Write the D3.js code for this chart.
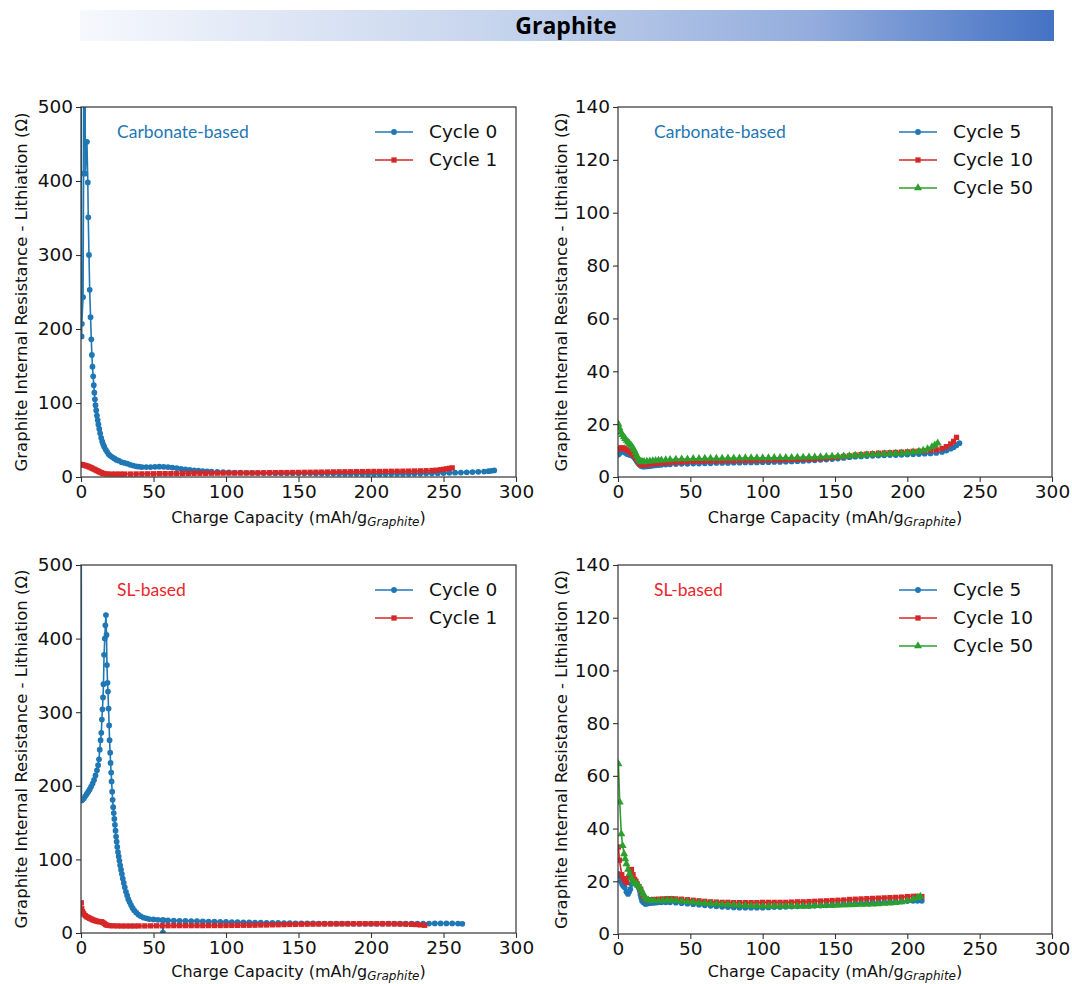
<!DOCTYPE html>
<html>
<head>
<meta charset="utf-8">
<script src="https://cdn.jsdelivr.net/npm/d3@7"></script>
<style>
body { margin: 0; background: #fff; }
text { font-family: "DejaVu Sans", sans-serif; fill: #111; }
</style>
</head>
<body>
<script>
// ---- tick labels / legend names ----
var xTicks = [0, 50, 100, 150, 200, 250, 300];
var yTicksLeft = [0, 100, 200, 300, 400, 500];
var yTicksRight = [0, 20, 40, 60, 80, 100, 120, 140];
var legendLeft = ["Cycle 0", "Cycle 1"];
var legendRight = ["Cycle 5", "Cycle 10", "Cycle 50"];

// ---- carbonate-based electrolyte, [capacity, resistance] ----
var carbCycle0 = [[0.1,900],[0.4,190],[0.6,207],[1.4,243],[1.8,410],[2.4,900],[3.0,410],[4.1,453],[4.7,398],[5.0,351],[5.5,300],[6.0,253],[6.6,216],[7.1,186],[7.5,165],[7.9,149],[8.4,136],[8.8,124],[9.2,114],[9.6,105],[10.0,97],[10.5,90],[11.0,83],[11.5,77],[12.0,71],[12.6,65],[13.2,59],[13.9,53],[14.6,48],[15.3,44],[16,41],[17,37],[18,34],[19,31],[20,29],[21.5,27],[23,25],[24.5,23],[26,22],[28,20],[30,19],[32,18],[34,16.5],[36,15.5],[38,14.5],[40,14],[42,13.5],[45,13.5],[48,13.5],[51,13.8],[54,14],[57,13.8],[60,13.5],[63,12.8],[66,12],[69,11],[72,10.3],[75,9.6],[78,9],[81,8.5],[84,8],[87,7.5],[90,7.2],[94,6.8],[98,6.5],[102,6.2],[106,6],[110,5.8],[114,5.6],[118,5.5],[122,5.4],[126,5.3],[130,5.3],[134,5.2],[138,5.2],[142,5.1],[146,5.1],[150,5],[154,5],[158,4.9],[162,4.8],[166,4.8],[170,4.7],[174,4.6],[178,4.5],[182,4.5],[186,4.4],[190,4.3],[194,4.3],[198,4.2],[202,4.2],[206,4.2],[210,4.3],[214,4.3],[218,4.4],[222,4.4],[226,4.5],[230,4.6],[234,4.7],[238,4.9],[242,5],[246,5.2],[250,5.4],[254,5.6],[258,5.8],[262,6],[266,6.3],[270,6.6],[274,7],[278,7.4],[281,7.9],[283,8.3],[285,8.8]];
var carbCycle1 = [[0.3,17],[1,16.5],[2,16],[3,15.5],[4,15],[5,14.2],[6,13.4],[7,12.5],[8,11.6],[9,10.6],[10,9.6],[11,8.6],[12,7.6],[13,6.6],[14,5.8],[15,5],[16,4.5],[18,4.2],[21,4],[24,4],[27,4],[30,4],[34,4],[38,4.1],[42,4.2],[46,4.3],[50,4.4],[54,4.5],[58,4.6],[62,4.6],[66,4.7],[70,4.8],[74,4.9],[78,5],[82,5],[86,5],[90,5.1],[94,5.2],[98,5.2],[102,5.3],[106,5.3],[110,5.4],[114,5.5],[118,5.5],[122,5.6],[126,5.7],[130,5.8],[134,5.9],[138,6],[142,6],[146,6.1],[150,6.2],[154,6.3],[158,6.4],[162,6.5],[166,6.6],[170,6.7],[174,6.9],[178,7],[182,7.1],[186,7.1],[190,7.2],[194,7.3],[198,7.4],[202,7.5],[206,7.5],[210,7.6],[214,7.7],[218,7.8],[222,7.9],[226,8],[230,8.1],[234,8.3],[238,8.5],[242,8.8],[245,9.2],[248,9.8],[250,10.3],[252,11],[254,11.7],[256,12.3]];
var carbCycle5 = [[0.3,8.5],[1,9],[2,9.6],[3,9.9],[4,9.6],[5,9.2],[6,8.8],[7,8.6],[8,8.4],[9,8.2],[10,8],[11,7.5],[12,6.8],[13,6],[14,5.2],[15,4.6],[16,4.2],[17,4],[18,3.9],[20,4],[22,4.1],[24,4.3],[26,4.4],[28,4.5],[30,4.6],[33,4.7],[36,4.8],[40,4.9],[44,5],[48,5],[52,5.1],[56,5.1],[60,5.2],[64,5.2],[68,5.3],[72,5.3],[76,5.3],[80,5.4],[84,5.4],[88,5.5],[92,5.5],[96,5.5],[100,5.6],[104,5.6],[108,5.7],[112,5.7],[116,5.8],[120,5.9],[124,6],[128,6.1],[132,6.2],[136,6.3],[140,6.5],[144,6.6],[148,6.8],[152,7],[156,7.2],[160,7.5],[164,7.7],[168,7.8],[172,7.9],[176,8],[180,8.1],[184,8.2],[188,8.3],[192,8.3],[196,8.4],[200,8.5],[204,8.6],[208,8.7],[212,8.8],[216,8.9],[220,9.1],[224,9.5],[227,10],[230,10.7],[232,11.3],[234,12],[236,12.8]];
var carbCycle10 = [[0.3,10.5],[1,10.8],[2,11],[3,11],[4,10.9],[5,10.6],[6,10.3],[7,10],[8,9.6],[9,9.2],[10,8.8],[11,8.2],[12,7.5],[13,6.6],[14,5.7],[15,5],[16,4.7],[17,4.6],[18,4.6],[20,4.7],[22,4.9],[24,5],[26,5.1],[28,5.2],[30,5.3],[33,5.4],[36,5.5],[40,5.6],[44,5.7],[48,5.8],[52,5.9],[56,6],[60,6],[64,6.1],[68,6.1],[72,6.1],[76,6.2],[80,6.2],[84,6.3],[88,6.3],[92,6.3],[96,6.4],[100,6.4],[104,6.5],[108,6.5],[112,6.5],[116,6.6],[120,6.6],[124,6.7],[128,6.8],[132,6.8],[136,6.9],[140,7],[144,7.2],[148,7.3],[152,7.5],[156,7.8],[160,8],[164,8.3],[168,8.5],[172,8.7],[176,8.8],[180,9],[184,9.1],[188,9.2],[192,9.3],[196,9.4],[200,9.5],[204,9.7],[208,9.8],[212,9.9],[216,10.1],[220,10.3],[224,10.8],[227,11.5],[230,12.5],[232,13.5],[234,15]];
var carbCycle50 = [[0.3,20],[1,18.5],[2,17],[3,16],[4,15.2],[5,14.5],[6,13.8],[7,13.2],[8,12.6],[9,12],[10,11.3],[11,10.3],[12,9.2],[13,8],[14,7],[15,6.2],[16,5.8],[17,5.7],[18,5.8],[20,5.9],[22,6],[24,6.1],[26,6.2],[28,6.3],[30,6.4],[33,6.5],[36,6.6],[40,6.7],[44,6.8],[48,6.8],[52,6.9],[56,6.9],[60,7],[64,7],[68,7],[72,7],[76,7.1],[80,7.1],[84,7.1],[88,7.2],[92,7.2],[96,7.2],[100,7.2],[104,7.2],[108,7.3],[112,7.3],[116,7.3],[120,7.3],[124,7.4],[128,7.4],[132,7.5],[136,7.5],[140,7.6],[144,7.7],[148,7.8],[152,7.8],[156,7.9],[160,8],[164,8.2],[168,8.3],[172,8.4],[176,8.5],[180,8.6],[184,8.7],[188,8.8],[192,8.9],[196,9],[200,9.2],[204,9.4],[208,9.7],[211,10.1],[214,10.6],[217,11.4],[219,12.1],[221,12.8]];

// ---- SL-based electrolyte ----
var slCycle0 = [[0.1,800],[0.3,180],[1,181],[2,183],[3,186],[4,189],[5,192],[6,195],[7,199],[8,203],[9,208],[10,214],[11,221],[11.8,228],[12.4,236],[12.9,249],[13.5,262],[14,272],[14.4,290],[14.8,304],[15.2,320],[15.5,338],[15.9,378],[16.4,400],[16.8,418],[17.2,432],[17.6,405],[17.9,364],[18.3,340],[18.6,328],[19,305],[19.4,282],[19.7,262],[20.1,245],[20.4,231],[20.8,218],[21.1,206],[21.5,192],[21.8,181],[22.2,171],[22.6,163],[23,155],[23.4,147],[23.8,139],[24.2,131],[24.6,124],[25,117],[25.5,110],[26,104],[26.5,98],[27,92],[27.6,86],[28.2,80],[28.8,74],[29.5,68],[30.2,62],[31,56],[31.8,51],[32.6,46],[33.5,42],[34.5,38],[35.5,34],[36.6,31],[38,28],[39.5,25],[41,23],[43,21],[45,20],[47,19],[50,18.5],[53,18],[56,17.5],[56.5,0.5],[57,17.5],[60,17],[64,16.8],[68,16.6],[72,16.4],[76,16.2],[80,16],[84,15.8],[88,15.6],[92,15.4],[96,15.2],[100,15],[104,14.8],[108,14.7],[112,14.5],[116,14.4],[120,14.2],[124,14],[128,13.9],[132,13.7],[136,13.6],[140,13.4],[144,13.3],[148,13.2],[152,13.1],[156,13.1],[160,13],[164,12.9],[168,12.8],[172,12.8],[176,12.7],[180,12.6],[184,12.6],[188,12.5],[192,12.5],[196,12.5],[200,12.5],[204,12.5],[208,12.6],[212,12.6],[216,12.6],[220,12.7],[224,12.7],[228,12.8],[232,12.8],[236,12.9],[240,12.9],[244,13],[248,13],[252,13],[256,13],[260,12.8],[263,12.5]];
var slCycle1 = [[0.2,41],[0.5,33],[1,29],[1.5,27],[2,25.5],[3,23.5],[4,22],[5,21],[6,20],[7,19],[8,18],[9,17.3],[10,16.6],[11,16],[12,15.5],[13,15.4],[14,15.3],[15,14.5],[16,13],[17,11.5],[18,10.5],[20,10],[22,9.8],[25,9.6],[28,9.5],[31,9.5],[34,9.5],[37,9.5],[40,9.6],[44,9.6],[48,9.7],[52,9.8],[56,9.8],[60,9.9],[64,10],[68,10],[72,10],[76,10],[80,10],[84,10],[88,10.1],[92,10.1],[96,10.1],[100,10.2],[104,10.3],[108,10.4],[112,10.5],[116,10.5],[120,10.6],[124,10.8],[128,10.9],[132,11.1],[136,11.2],[140,11.4],[144,11.6],[148,11.7],[152,11.9],[156,12],[160,12.1],[164,12.2],[168,12.3],[172,12.3],[176,12.4],[180,12.5],[184,12.5],[188,12.6],[192,12.6],[196,12.6],[200,12.6],[204,12.6],[208,12.5],[212,12.5],[216,12.4],[220,12.2],[224,12],[228,11.8],[231,11.5],[234,11],[237,10.5]];
var slCycle5 = [[0.3,22.8],[1,22],[2,20],[2.8,19],[3.7,18.2],[4.6,17.7],[5.8,16],[6.9,15.2],[7.7,16],[8.5,17],[9.3,19],[10,20.2],[11,19.8],[12,19.5],[13,18.8],[14,18],[15,16.5],[15.5,15],[16,13.8],[16.6,12.6],[17.5,12],[18.9,11.4],[20,11.5],[22,11.7],[24,11.8],[26,11.9],[28,12],[30,12],[33,12],[36,12],[40,11.9],[44,11.7],[48,11.5],[52,11.3],[56,11.1],[60,10.9],[64,10.7],[68,10.5],[72,10.3],[76,10.2],[80,10.1],[84,10],[88,10],[92,10],[96,10],[100,10],[104,10.1],[108,10.2],[112,10.2],[116,10.3],[120,10.4],[124,10.5],[128,10.6],[132,10.6],[136,10.7],[140,10.8],[144,10.9],[148,11],[152,11.1],[156,11.2],[160,11.4],[164,11.5],[168,11.6],[172,11.7],[176,11.8],[180,11.9],[184,12],[188,12.1],[192,12.2],[196,12.3],[200,12.5],[204,12.6],[207,12.6],[210,12.6]];
var slCycle10 = [[0.3,33],[1,28],[2.6,22.5],[3.8,21],[5,20],[6,19.5],[7.4,21.5],[8.4,23],[9.3,24.5],[10.4,22.5],[11.5,20.7],[12.4,20],[13.3,19],[14.5,18],[15.7,17],[16.6,15.5],[17.5,14.4],[18.5,13.5],[19.5,13],[21,13],[23,13],[25,13.1],[28,13.2],[31,13.3],[34,13.4],[37,13.4],[40,13.3],[44,13.2],[48,13],[52,12.8],[56,12.6],[60,12.4],[64,12.2],[68,12.1],[72,12],[76,12],[80,11.9],[84,11.9],[88,11.9],[92,11.9],[96,11.9],[100,12],[104,12],[108,12],[112,12],[116,12],[120,12.1],[124,12.2],[128,12.2],[132,12.3],[136,12.4],[140,12.5],[144,12.6],[148,12.7],[152,12.8],[156,12.9],[160,13.1],[164,13.2],[168,13.3],[172,13.4],[176,13.5],[180,13.6],[184,13.7],[188,13.8],[192,13.9],[196,14],[200,14.2],[204,14.3],[207,14.3],[210,14.2]];
var slCycle50 = [[0.3,64.5],[1.2,50],[2.3,38],[3.2,33.5],[4.2,30.4],[5,28.5],[5.8,26.6],[7,24.5],[8.1,22.8],[9.2,21.4],[10.4,20.2],[11.5,19.5],[12.7,19],[13.8,18.4],[15,17.7],[16.2,16.5],[17.3,15.2],[18.5,14.2],[19.6,13.3],[21,12.8],[23,12.6],[25,12.6],[28,12.6],[31,12.7],[34,12.8],[37,12.8],[40,12.7],[44,12.5],[48,12.3],[52,12.1],[56,11.9],[60,11.7],[64,11.5],[68,11.4],[72,11.2],[76,11.1],[80,11],[84,10.9],[88,10.8],[92,10.7],[96,10.7],[100,10.6],[104,10.6],[108,10.6],[112,10.6],[116,10.6],[120,10.6],[124,10.6],[128,10.6],[132,10.6],[136,10.7],[140,10.7],[144,10.8],[148,10.8],[152,10.9],[156,11],[160,11],[164,11.1],[168,11.2],[172,11.2],[176,11.3],[180,11.4],[184,11.6],[188,11.7],[192,11.9],[196,12.2],[200,12.6],[204,13.2],[207,13.8],[209,14.3]];

var width = 1072, height = 984;
var colors = ["#1f77b4", "#d62728", "#2ca02c"]; // blue, red, green
var symbols = [d3.symbolCircle, d3.symbolSquare, d3.symbolTriangle];
var symbolSizes = [26, 28, 28];

var svg = d3.select("body")
    .append("svg")
    .attr("width", width)
    .attr("height", height);

var defs = svg.append("defs");

// title bar with gradient
var grad = defs.append("linearGradient")
    .attr("id", "titleGrad")
    .attr("x1", "0%").attr("x2", "100%");
grad.append("stop").attr("offset", "0%").attr("stop-color", "#f6f8fd");
grad.append("stop").attr("offset", "45%").attr("stop-color", "#c3d2ec");
grad.append("stop").attr("offset", "75%").attr("stop-color", "#94addd");
grad.append("stop").attr("offset", "100%").attr("stop-color", "#4472c4");

svg.append("rect")
    .attr("x", 80).attr("y", 10)
    .attr("width", 974).attr("height", 31)
    .style("fill", "url(#titleGrad)");

svg.append("text")
    .attr("x", 566).attr("y", 26)
    .attr("dy", "0.35em")
    .attr("text-anchor", "middle")
    .style("font-family", "'Open Sans', sans-serif")
    .style("font-weight", "bold")
    .style("font-size", "23px")
    .style("fill", "#000")
    .text("Graphite");

// four panels
var panels = [
    {left: 81, top: 107, w: 435, h: 370, yMax: 500, yTicks: yTicksLeft, series: [carbCycle0, carbCycle1], names: legendLeft, legendX: 294, labelGap: 46, note: "Carbonate-based", noteColor: "#1f77b4"},
    {left: 618, top: 107, w: 434, h: 370, yMax: 140, yTicks: yTicksRight, series: [carbCycle5, carbCycle10, carbCycle50], names: legendRight, legendX: 281, labelGap: 46, note: "Carbonate-based", noteColor: "#1f77b4"},
    {left: 81, top: 565, w: 435, h: 368, yMax: 500, yTicks: yTicksLeft, series: [slCycle0, slCycle1], names: legendLeft, legendX: 294, labelGap: 44, note: "SL-based", noteColor: "#e8262b"},
    {left: 618, top: 565, w: 434, h: 369, yMax: 140, yTicks: yTicksRight, series: [slCycle5, slCycle10, slCycle50], names: legendRight, legendX: 281, labelGap: 43, note: "SL-based", noteColor: "#e8262b"}
];

panels.forEach(function(p, i) {
    var g = svg.append("g").attr("transform", "translate(" + p.left + "," + p.top + ")");

    var x = d3.scaleLinear().domain([0, 300]).range([0, p.w]);
    var y = d3.scaleLinear().domain([0, p.yMax]).range([p.h, 0]);

    defs.append("clipPath").attr("id", "clip" + i)
        .append("rect").attr("width", p.w).attr("height", p.h);

    // axes
    var xAxis = g.append("g")
        .attr("transform", "translate(0," + p.h + ")")
        .call(d3.axisBottom(x).tickValues(xTicks).tickSize(5).tickPadding(3).tickSizeOuter(0));
    var yAxis = g.append("g")
        .call(d3.axisLeft(y).tickValues(p.yTicks).tickSize(5).tickPadding(3).tickSizeOuter(0));
    [xAxis, yAxis].forEach(function(a) {
        a.select(".domain").remove();
        a.selectAll("line").style("stroke", "#333").style("stroke-width", 1.1);
        a.selectAll("text")
            .style("font-family", "'DejaVu Sans', sans-serif")
            .style("font-size", "18.5px")
            .style("fill", "#111");
    });

    // data
    var plot = g.append("g").attr("clip-path", "url(#clip" + i + ")");
    var line = d3.line().x(function(d) { return x(d[0]); }).y(function(d) { return y(d[1]); });

    p.series.forEach(function(s, k) {
        plot.append("path")
            .datum(s)
            .attr("d", line)
            .style("fill", "none")
            .style("stroke", colors[k])
            .style("stroke-width", 1.6);
        plot.selectAll(".m" + k)
            .data(s)
            .enter().append("path")
            .attr("class", "m" + k)
            .attr("transform", function(d) { return "translate(" + x(d[0]) + "," + y(d[1]) + ")"; })
            .attr("d", d3.symbol().type(symbols[k]).size(symbolSizes[k]))
            .style("fill", colors[k]);
    });

    // frame
    g.append("rect")
        .attr("width", p.w).attr("height", p.h)
        .style("fill", "none")
        .style("stroke", "#333")
        .style("stroke-width", 1.2);

    // note text
    g.append("text")
        .attr("x", 36).attr("y", 25)
        .attr("dy", "0.35em")
        .style("font-family", "Lato, sans-serif")
        .style("font-size", "17.5px")
        .style("fill", p.noteColor)
        .text(p.note);

    // legend
    p.names.forEach(function(name, k) {
        var ly = 25 + k * 28;
        g.append("line")
            .attr("x1", p.legendX).attr("x2", p.legendX + 38)
            .attr("y1", ly).attr("y2", ly)
            .style("stroke", colors[k]).style("stroke-width", 1.5);
        g.append("path")
            .attr("transform", "translate(" + (p.legendX + 19) + "," + ly + ")")
            .attr("d", d3.symbol().type(symbols[k]).size(symbolSizes[k]))
            .style("fill", colors[k]);
        g.append("text")
            .attr("x", p.legendX + 54).attr("y", ly)
            .attr("dy", "0.35em")
            .style("font-size", "18.5px")
            .text(name);
    });

    // x label with subscript
    var xl = g.append("text")
        .attr("x", p.w / 2).attr("y", p.h + p.labelGap)
        .attr("text-anchor", "middle")
        .style("font-size", "16px");
    xl.append("tspan").text("Charge Capacity (mAh/g");
    xl.append("tspan").attr("dy", 3).style("font-size", "12px").style("font-style", "italic").text("Graphite");
    xl.append("tspan").attr("dy", -3).text(")");

    // y label
    g.append("text")
        .attr("transform", "translate(" + (i % 2 === 0 ? -60 : -57) + "," + (p.h / 2) + ") rotate(-90)")
        .attr("text-anchor", "middle")
        .attr("dy", "0.35em")
        .style("font-size", "16.5px")
        .text("Graphite Internal Resistance - Lithiation (\u03a9)");
});
</script>
</body>
</html>
